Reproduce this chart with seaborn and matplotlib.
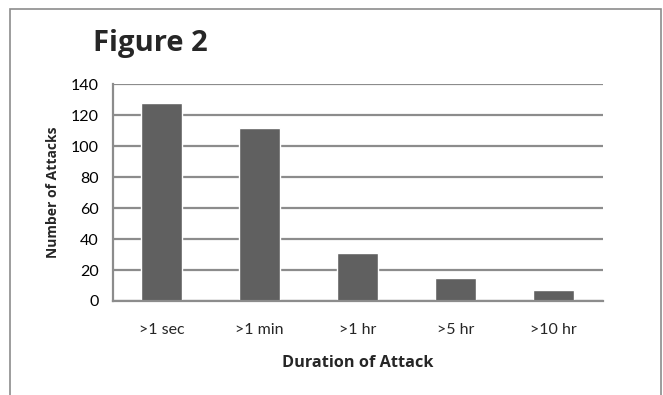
import matplotlib
matplotlib.use("Agg")
import matplotlib.pyplot as plt
import matplotlib.patches as mpatches
import seaborn as sns
import pandas as pd
import numpy as np

durations = [">1 sec", ">1 min", ">1 hr", ">5 hr", ">10 hr"]
attacks = [128, 112, 31, 15, 7]
y_ticks = [0, 20, 40, 60, 80, 100, 120, 140]

sns.set_style("white")
plt.rcParams["font.family"] = ["Lato", "DejaVu Sans"]

df = pd.DataFrame({"Duration of Attack": durations, "Number of Attacks": attacks})

fig = plt.figure(figsize=(6.63, 3.95), dpi=100)
ax = fig.add_axes([0.170, 0.238, 0.739, 0.549])

grid_c = "#8c8c8c"
ax.set_axisbelow(True)
for t in y_ticks:
    ax.axhline(t, color=grid_c, lw=1.6, zorder=0)

sns.barplot(data=df, x="Duration of Attack", y="Number of Attacks", color="#606060",
            width=0.42, saturation=1, ax=ax, zorder=2)

ax.set_ylim(0, 140)
ax.set_xlim(-0.5, len(durations) - 0.5)
ax.set_yticks(y_ticks)
ax.set_yticklabels([str(t) for t in y_ticks], fontsize=11.5, color="#000000")
ax.set_xticks(range(len(durations)))
ax.set_xticklabels(durations, fontsize=11.5)
ax.set_xticks(np.arange(-0.5, len(durations)), minor=True)
ax.tick_params(axis="x", which="major", length=0, pad=16)
ax.tick_params(axis="x", which="minor", length=5, width=1.6, color=grid_c, direction="out")
ax.tick_params(axis="y", length=5, width=1.6, color=grid_c, direction="out", pad=5)

for s in ["top", "right"]:
    ax.spines[s].set_visible(False)
for s in ["left", "bottom"]:
    ax.spines[s].set_color(grid_c)
    ax.spines[s].set_linewidth(1.6)

ax.set_xlabel("Duration of Attack", fontsize=11.7, fontweight="bold", labelpad=13,
              family=["Open Sans", "DejaVu Sans"])
ax.set_ylabel("Number of Attacks", fontsize=10, fontweight="bold", labelpad=8,
              family=["Open Sans", "DejaVu Sans"])

fig.text(0.14, 0.89, "Figure 2", fontsize=21, fontweight="bold", ha="left", va="center",
         family=["Open Sans", "DejaVu Sans"])

fig.patches.append(mpatches.Rectangle((0.015, -0.02), 0.982, 0.997, transform=fig.transFigure,
                                      fill=False, edgecolor="#8c8c8c", lw=1.2))

fig.savefig("out.png", dpi=100)
